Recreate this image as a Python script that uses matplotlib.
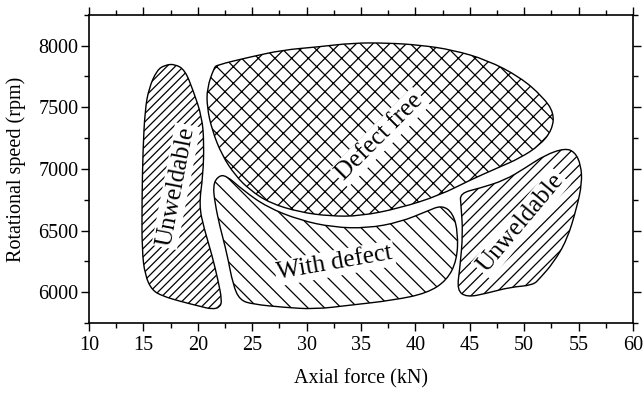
import matplotlib
matplotlib.use("Agg")
import matplotlib.pyplot as plt
import numpy as np
from matplotlib.path import Path
from matplotlib.patches import PathPatch
from matplotlib.ticker import MultipleLocator

plt.rcParams['font.family'] = ['Liberation Serif', 'DejaVu Serif']
plt.rcParams['hatch.linewidth'] = 0.9

# region outlines (axial force kN, rotational speed rpm)
unw_left_x = [16.25, 16.99, 17.90, 18.82, 19.56, 20.39, 20.57, 20.48, 20.11, 20.57, 21.31, 21.86,
              22.22, 22.04, 21.31, 20.20, 18.36, 16.80, 15.79, 15.15, 14.87, 14.87, 14.96, 15.15, 15.51]
unw_left_y = [7801, 7842, 7850, 7801, 7639, 7420, 7209, 6949, 6706, 6519, 6300, 6097,
              5935, 5878, 5862, 5886, 5927, 5968, 6016, 6138, 6341, 6746, 7152, 7477, 7655]

free_x = [21.76, 24.80, 27.83, 30.96, 34.26, 37.39, 40.42, 43.46, 46.58, 49.61, 51.73, 52.75,
          52.56, 51.45, 49.61, 47.50, 45.02, 42.26, 38.58, 34.91, 32.15, 29.39, 26.64, 24.80,
          23.42, 22.22, 21.31, 20.85, 20.85, 21.5]
free_y = [7842, 7907, 7964, 7988, 8021, 8021, 8004, 7964, 7883, 7745, 7583, 7453,
          7314, 7193, 7087, 7006, 6909, 6787, 6682, 6617, 6617, 6649, 6722, 6828,
          6949, 7112, 7314, 7501, 7655, 7820]

defect_x = [21.40, 21.86, 22.59, 24.15, 26.36, 29.39, 32.43, 35.55, 38.58, 41.07, 42.44, 43.46,
            43.92, 43.82, 42.90, 41.07, 37.94, 33.99, 30.77, 27.83, 25.07, 23.88, 23.24, 22.68,
            22.04, 21.58]
defect_y = [6868, 6941, 6949, 6828, 6690, 6584, 6527, 6519, 6568, 6657, 6706, 6641,
            6479, 6260, 6097, 5992, 5935, 5895, 5862, 5878, 5903, 5935, 6057, 6316,
            6527, 6722]

unw_right_x = [44.10, 45.94, 48.24, 50.07, 51.91, 53.75, 54.67, 55.22, 55.31, 54.85, 53.93, 52.65,
               51.45, 50.81, 48.70, 46.58, 44.74, 43.82, 44.10, 44.37, 44.19]
unw_right_y = [6803, 6844, 6909, 7006, 7112, 7168, 7136, 7030, 6884, 6690, 6422, 6235,
               6114, 6057, 6041, 5992, 5959, 6016, 6203, 6479, 6706]

labels = ['Unweldable', 'Defect free', 'With defect', 'Unweldable']
label_x = [18.0, 36.75, 32.6, 49.7]
label_y = [6860, 7258, 6235, 6560]
label_rot = [79, 45, 10, 50]


def smooth_path(xs, ys):
    # closed quadratic B-spline through the outline's control points
    pts = np.column_stack([xs, ys])
    mids = (pts + np.roll(pts, -1, axis=0)) / 2
    verts = [mids[-1]]
    codes = [Path.MOVETO]
    for i in range(len(pts)):
        verts += [pts[i], mids[i]]
        codes += [Path.CURVE3, Path.CURVE3]
    verts.append(mids[-1])
    codes.append(Path.CLOSEPOLY)
    return Path(verts, codes)


fig = plt.figure(figsize=(6.43, 3.94), dpi=100)
ax = fig.add_axes([0.1384, 0.180, 0.8460, 0.7827])

regions = [(unw_left_x, unw_left_y, '////'),
           (free_x, free_y, 'xx'),
           (defect_x, defect_y, '\\\\'),
           (unw_right_x, unw_right_y, '///')]
for xs, ys, h in regions:
    ax.add_patch(PathPatch(smooth_path(xs, ys), facecolor='white', edgecolor='black',
                           hatch=h, lw=1.0, zorder=2))

for t, x, y, r in zip(labels, label_x, label_y, label_rot):
    ax.text(x, y, t, rotation=r, fontsize=18, ha='center', va='center',
            rotation_mode='anchor', zorder=3,
            bbox=dict(facecolor='white', edgecolor='none', pad=1.5))

ax.set_xlim(10, 60)
ax.set_ylim(5750, 8250)
ax.xaxis.set_major_locator(MultipleLocator(5))
ax.xaxis.set_minor_locator(MultipleLocator(2.5))
ax.yaxis.set_major_locator(MultipleLocator(500))
ax.yaxis.set_minor_locator(MultipleLocator(250))
ax.set_yticks([6000, 6500, 7000, 7500, 8000])

ax.tick_params(which='both', direction='out', top=True, right=True, width=1.0,
               labelsize=14.5, colors='black')
ax.tick_params(which='major', length=6)
ax.tick_params(which='minor', length=3.5)
ax.tick_params(axis='y', pad=1.5)
for s in ax.spines.values():
    s.set_linewidth(1.2)

ax.set_xlabel('Axial force (kN)', fontsize=14.5, labelpad=10)
ax.set_ylabel('Rotational speed (rpm)', fontsize=14.5, labelpad=9)

fig.savefig('out.png', dpi=100)
